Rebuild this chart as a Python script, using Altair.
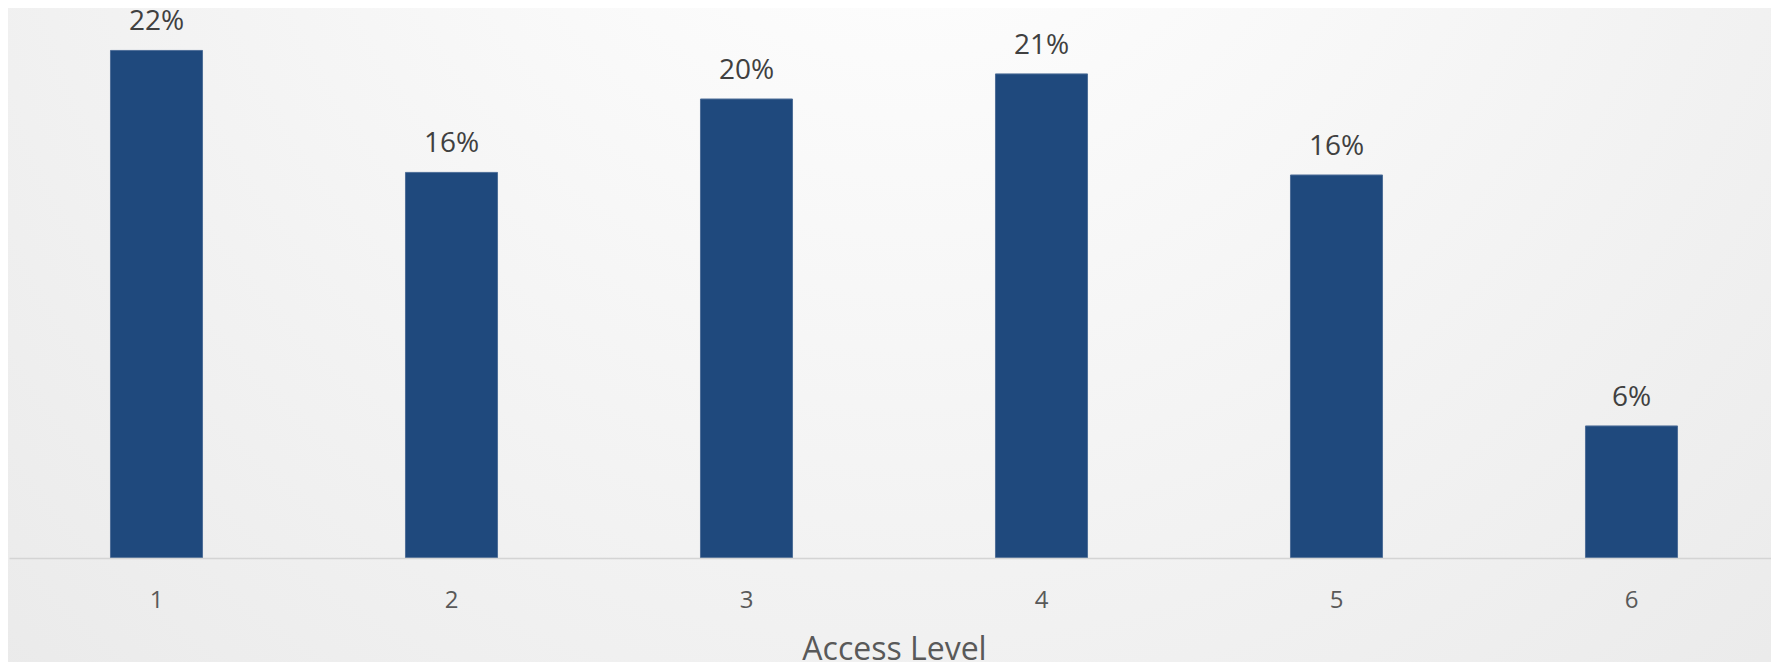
import altair as alt
import pandas as pd

# Data
levels = ["1", "2", "3", "4", "5", "6"]
shares = [0.2164, 0.1644, 0.1957, 0.2064, 0.1633, 0.0563]

df = pd.DataFrame({"level": levels, "share": shares})

W, H = 1762, 550
PB = 104  # bottom padding (axis labels + title)
FONT = "Open Sans"

bg = alt.Chart(pd.DataFrame({"k": [0]})).mark_rect(
    fill={
        "gradient": "radial",
        "x1": 0.51, "y1": 0.163, "r1": 0.0,
        "x2": 0.51, "y2": 0.163, "r2": 0.95,
        "stops": [
            {"offset": 0.0, "color": "#ffffff"},
            {"offset": 0.12, "color": "#fdfdfd"},
            {"offset": 0.5, "color": "#f2f2f2"},
            {"offset": 1.0, "color": "#e4e4e4"},
        ],
    }
).encode(
    x=alt.value(-1), x2=alt.value(W), y=alt.value(0), y2=alt.value(H + PB)
)

xenc = alt.X(
    "level:N",
    sort=None,
    scale=alt.Scale(paddingInner=0.688, paddingOuter=0.344, range=[0, 1770]),
    axis=alt.Axis(
        title="Access Level",
        labelAngle=0,
        labelFont=FONT,
        labelFontSize=24,
        labelColor="#595959",
        labelBaseline="alphabetic",
        labelPadding=49,
        ticks=False,
        tickSize=0,
        domainColor="#d4d4d4",
        domainWidth=1.5,
        grid=False,
        titleFont=FONT,
        titleFontSize=32,
        titleFontWeight="normal",
        titleColor="#595959",
        titleBaseline="alphabetic",
        titleX=885,
        titleY=101,
        zindex=1,
    ),
)
yenc = alt.Y("share:Q", scale=alt.Scale(domain=[0, 0.2345], nice=False, zero=True), axis=None)

bars = alt.Chart(df).mark_bar(
    color="#1f497d", stroke="#4e6e98", strokeWidth=1
).encode(x=xenc, y=yenc)

text = alt.Chart(df).mark_text(
    dy=-20, baseline="alphabetic", font=FONT, fontSize=28, color="#404040"
).encode(
    x=alt.X("level:N", sort=None),
    y=alt.Y("share:Q"),
    text=alt.Text("share:Q", format=".0%"),
)

chart = alt.layer(bg, bars, text).properties(
    width=W,
    height=H,
    autosize=alt.AutoSizeParams(type="none"),
    padding={"left": 1, "top": 0, "right": 0, "bottom": PB},
).configure_view(stroke=None).configure(background="#ebebeb")

chart.save("out.html", embed_options={"renderer": "svg", "actions": False})
